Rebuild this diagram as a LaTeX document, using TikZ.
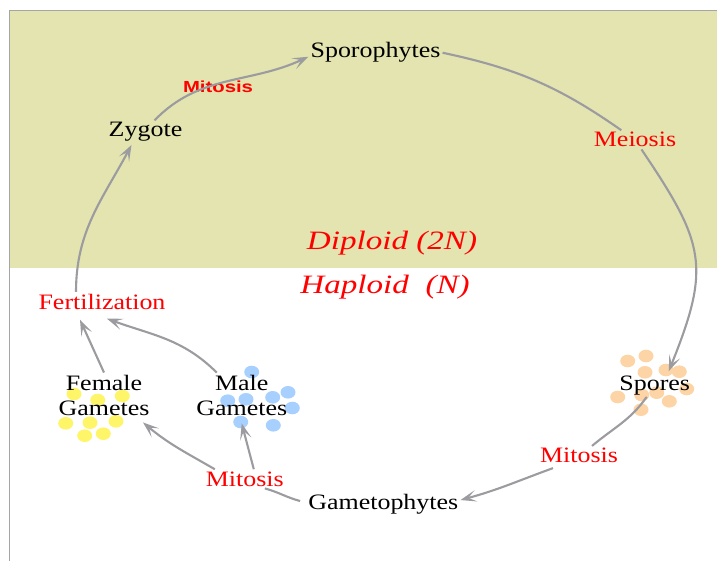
\documentclass[tikz,border=0pt]{standalone}
\usepackage{fontspec}
\setmainfont{Liberation Serif}[FakeStretch=1.18]
\newfontfamily\ploidfont{Liberation Serif}[FakeStretch=1.25]
\newfontfamily\boldsans{Liberation Sans}[FakeStretch=1.27]
\usetikzlibrary{arrows.meta}
\definecolor{bgolive}{RGB}{227,228,175}
\definecolor{framegray}{RGB}{165,165,165}
\definecolor{arrowgray}{RGB}{155,155,160}
\definecolor{dotyellow}{RGB}{255,245,105}
\definecolor{dotblue}{RGB}{168,208,255}
\definecolor{dotorange}{RGB}{252,212,165}
\begin{document}
\begin{tikzpicture}[x=1pt,y=1pt,
  lbl/.style={font=\fontsize{22}{25}\selectfont, inner sep=2pt, anchor=base},
  redlbl/.style={lbl, text=red},
  ploid/.style={font=\ploidfont\itshape\fontsize{26.5}{30}\selectfont, text=red, anchor=base, inner sep=2pt},
  smallbold/.style={font=\boldsans\bfseries\fontsize{16}{18}\selectfont, text=red, anchor=base, inner sep=1pt},
  conn/.style={draw=arrowgray, line width=2.1pt},
  arr/.style={conn, -{Stealth[length=16pt,width=11.5pt,inset=8pt]}}]
\useasboundingbox (0,0) rectangle (717,-561);
% background and frame
\fill[bgolive] (9.5,-10.5) rectangle (717,-268);
\draw[framegray, line width=1.5pt] (717,-10.5) -- (9.5,-10.5) -- (9.5,-561);
% dots
\foreach \px/\py in {74/394,97.7/400,122.3/396,65.7/423.3,90/422.7,116/421.3,84.7/435.7,103.3/433.7}
  \fill[dotyellow] (\px,-\py) ellipse [x radius=7.5pt, y radius=6.3pt];
\foreach \px/\py in {251.7/372,227.7/400.7,246/399.3,272.7/397.3,288/392.3,292.3/408,240.7/422,273.3/425.3}
  \fill[dotblue] (\px,-\py) ellipse [x radius=7.5pt, y radius=6.3pt];
\foreach \px/\py in {627.7/361,646/356,645/372.3,666/370,679.3/371.7,686.7/389,617.7/397,641.7/395,656.7/392.7,669.3/401.3,641/409.7}
  \fill[dotorange] (\px,-\py) ellipse [x radius=7.5pt, y radius=6.3pt];
% nodes
\node[lbl] (spo) at (375.5,-58) {Sporophytes};
\node[lbl] (zyg) at (145.5,-137) {Zygote};
\node[smallbold] (mit1) at (218,-92.7) {Mitosis};
\node[redlbl] (mei) at (635,-147) {Meiosis};
\node[ploid] (dip) at (392,-250) {Diploid (2N)};
\node[ploid] (hap) at (385,-293) {Haploid\ \ (N)};
\node[redlbl] (fer) at (102,-309.3) {Fertilization};
\node[lbl, anchor=center, align=center] (fem) at (104,-395) {Female\\Gametes};
\node[lbl, anchor=center, align=center] (male) at (241.7,-395) {Male\\Gametes};
\node[lbl] (spores) at (654.7,-390) {Spores};
\node[redlbl] (mit2) at (579,-462.7) {Mitosis};
\node[redlbl] (mit3) at (244.8,-486) {Mitosis};
\node[lbl] (gam) at (383.3,-509.3) {Gametophytes};
% connectors
\draw[arr] ([xshift=9pt]zyg.north) to[out=46,in=-155] ([yshift=-4pt]spo.west);
\draw[conn] (spo.east) to[out=-12,in=145] (mei);
\draw[arr] (mei) to[out=-56,in=68,looseness=1.3] ([shift={(14pt,2pt)}]spores.north);
\draw[conn] ([xshift=-8pt]spores.south) to[out=-125,in=40] ([xshift=13pt]mit2.north);
\draw[arr] ([shift={(-26pt,-3pt)}]mit2.south) to[out=-160,in=15] ([yshift=4pt]gam.east);
\draw[conn] ([shift={(-6pt,3pt)}]gam.west) to[out=165,in=-15] ([xshift=20pt]mit3.south);
\draw[arr] ([xshift=-30pt]mit3.north) to[out=150,in=-40] ([shift={(39pt,-5pt)}]fem.south);
\draw[arr] ([xshift=9pt]mit3.north) -- ([yshift=-6pt]male.south);
\draw[arr] ([xshift=-25pt]male.north) to[out=135,in=-20] ([shift={(5pt,-7pt)}]fer.south);
\draw[arr] (fem.north) -- ([shift={(-22pt,-8pt)}]fer.south);
\draw[arr] ([xshift=-26pt]fer.north) to[out=90,in=-118] ([shift={(-14pt,-1pt)}]zyg.south);
\end{tikzpicture}
\end{document}
